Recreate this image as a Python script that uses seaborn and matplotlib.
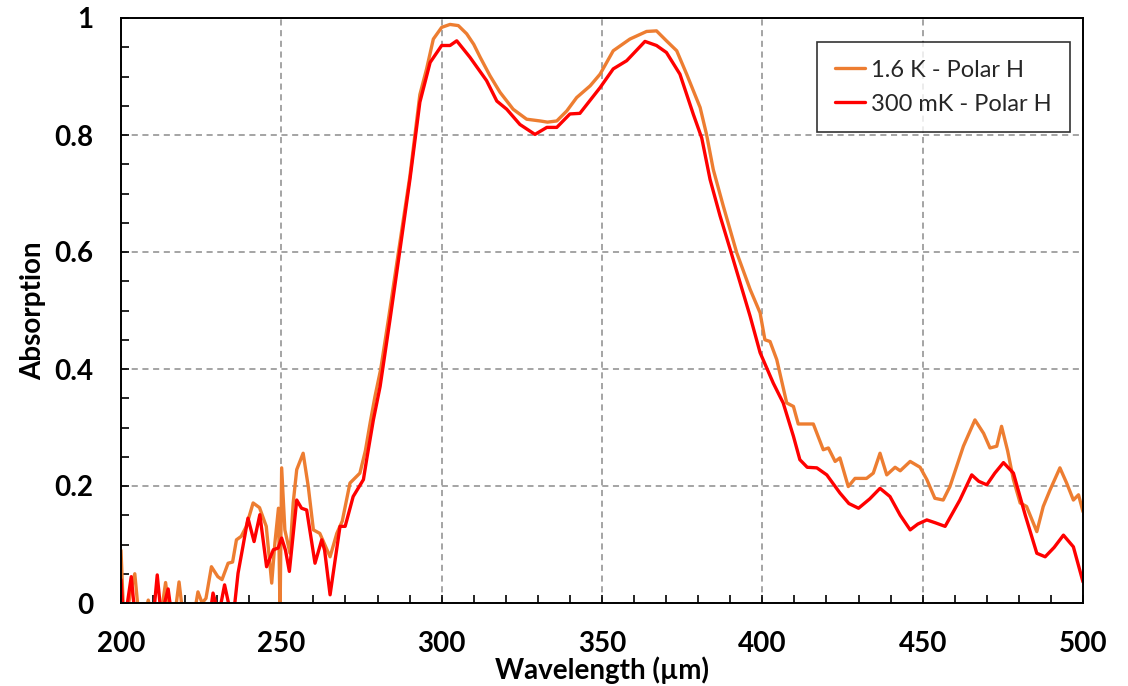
import numpy as np
import pandas as pd
import matplotlib
matplotlib.use("Agg")
import matplotlib.pyplot as plt
import seaborn as sns
from matplotlib.ticker import MultipleLocator, FuncFormatter

# ---------------- data ----------------
wl_16K = [200, 200.8, 201.5, 203, 204.3, 205.5, 207, 208.5, 209.5, 212.5, 213.9, 215.2, 216.8,
          218.1, 219.3, 222.8, 224, 225.3, 226.5, 228.2, 230.2, 231.5, 233.4, 234.8, 236, 237.5,
          239, 241.2, 243.2, 245.3, 247, 248, 249.1, 249.6, 250.1, 251.1, 252.7, 253.7, 254.8,
          256.8, 258.4, 260, 262, 265.2, 267.3, 269, 271.4, 274.5, 276.2, 277.7, 279.2, 281,
          283.4, 286.5, 290.1, 293.2, 295.3, 297.4, 300, 302.6, 305.2, 307.8, 310, 312, 315.1,
          318.2, 322.3, 326.5, 330.7, 333, 335.9, 339, 342.1, 346.3, 349.4, 353.5, 358.7, 363.9,
          367, 370.1, 373.3, 376.4, 380.6, 382.6, 384.7, 387.8, 392, 396.2, 399.3, 400.8, 402.4,
          404.5, 407.6, 409.7, 411.2, 415.9, 419, 420.6, 422.7, 424.2, 426.8, 428.9, 432.5, 434.6,
          436.7, 438.8, 441.4, 443, 446.1, 449.2, 451.3, 453.8, 456.4, 458.5, 462.7, 466.3, 469,
          471, 473.1, 474.6, 476.5, 478.3, 480.4, 482.4, 485.6, 487.6, 489.7, 492.8, 494.9, 497,
          498.6, 500]
abs_16K = [0.09, -0.02, -0.03, 0.02, 0.05, -0.02, -0.03, 0.005, -0.02, -0.02, 0.035, -0.02, -0.02,
           0.036, -0.02, -0.02, 0.019, 0.0, 0.008, 0.062, 0.045, 0.04, 0.068, 0.07, 0.108, 0.114,
           0.13, 0.171, 0.163, 0.131, 0.034, 0.103, 0.162, -0.02, 0.231, 0.125, 0.085, 0.171, 0.228,
           0.256, 0.199, 0.125, 0.119, 0.079, 0.119, 0.14, 0.205, 0.222, 0.26, 0.308, 0.353, 0.40,
           0.485, 0.599, 0.730, 0.869, 0.913, 0.964, 0.984, 0.989, 0.987, 0.973, 0.955, 0.933, 0.901,
           0.873, 0.844, 0.827, 0.824, 0.822, 0.824, 0.841, 0.864, 0.884, 0.904, 0.944, 0.964, 0.977,
           0.978, 0.961, 0.944, 0.904, 0.847, 0.801, 0.741, 0.679, 0.599, 0.536, 0.496, 0.450, 0.447,
           0.416, 0.342, 0.336, 0.306, 0.306, 0.262, 0.265, 0.242, 0.248, 0.199, 0.213, 0.213, 0.222,
           0.256, 0.219, 0.232, 0.226, 0.242, 0.232, 0.211, 0.179, 0.176, 0.199, 0.268, 0.313, 0.29,
           0.265, 0.268, 0.302, 0.26, 0.211, 0.171, 0.165, 0.122, 0.165, 0.193, 0.231, 0.205, 0.176,
           0.185, 0.156]

wl_300mK = [200, 200.8, 202, 203.2, 204.5, 210, 211.3, 212.5, 213.6, 214.7, 216, 227.5, 228.7,
            230.5, 232.3, 234.3, 235.5, 236.5, 238, 239.6, 241.5, 243.3, 245.4, 247.5, 249, 250.1,
            251.3, 252.5, 254.8, 256.3, 257.9, 260.5, 262.6, 263.5, 265.2, 268.3, 269.9, 272.4,
            275.6, 276.6, 278.7, 280.8, 283.9, 287, 290.1, 293.2, 296.4, 300, 302.6, 304.7, 308.8,
            314, 317.2, 320.3, 324.4, 329.1, 332.8, 335.9, 340, 343.1, 349.4, 353.5, 357.7, 363.4,
            367, 370.1, 374.3, 378.5, 381.1, 383.7, 386.8, 390, 393.1, 396.2, 399.3, 403.4, 406.5,
            409.7, 411.7, 414, 417, 420.1, 424.2, 427, 430, 433.5, 436.7, 439.8, 443, 446.1, 448.5,
            451.3, 454, 457, 461.6, 465.3, 467.5, 470, 472.5, 475.2, 478.3, 482, 485.6, 488.2, 491,
            493.9, 497, 500]
abs_300mK = [0.04, -0.03, 0.0, 0.045, -0.03, -0.03, 0.048, -0.02, 0.0, 0.024, -0.03, -0.03, 0.017,
             -0.02, 0.031, -0.02, 0.0, 0.051, 0.096, 0.145, 0.105, 0.151, 0.062, 0.091, 0.094, 0.111,
             0.09, 0.054, 0.176, 0.162, 0.159, 0.068, 0.108, 0.09, 0.014, 0.131, 0.131, 0.182,
             0.211, 0.245, 0.313, 0.370, 0.485, 0.604, 0.724, 0.856, 0.924, 0.953, 0.953, 0.961, 0.933,
             0.893, 0.858, 0.844, 0.818, 0.801, 0.813, 0.813, 0.836, 0.837, 0.881, 0.913, 0.927, 0.960,
             0.953, 0.941, 0.904, 0.835, 0.795, 0.724, 0.662, 0.604, 0.547, 0.490, 0.428, 0.376, 0.342,
             0.285, 0.245, 0.232, 0.231, 0.219, 0.188, 0.17, 0.162, 0.178, 0.196, 0.182, 0.15, 0.125, 0.135,
             0.142, 0.137, 0.131, 0.176, 0.219, 0.208, 0.202, 0.222, 0.240, 0.222, 0.15, 0.085, 0.079, 0.095,
             0.116, 0.096, 0.036]

series_names = ["1.6 K - Polar H", "300 mK - Polar H"]
series_colors = ["#ED7D31", "#FF0000"]
x_ticks = [200, 250, 300, 350, 400, 450, 500]
y_ticks = [0, 0.2, 0.4, 0.6, 0.8, 1]
x_label = "Wavelength (µm)"
y_label = "Absorption"

# ---------------- plot ----------------
sns.set_theme(style="white")
plt.rcParams["font.family"] = ["Lato", "DejaVu Sans"]

fig = plt.figure(figsize=(11.28, 6.86), dpi=100)
ax = fig.add_axes([121 / 1128, 1 - 603 / 686, (1083 - 121) / 1128, (603 - 18) / 686])

df = pd.concat([
    pd.DataFrame({"wl": wl_16K, "abs": abs_16K, "series": series_names[0]}),
    pd.DataFrame({"wl": wl_300mK, "abs": abs_300mK, "series": series_names[1]}),
], ignore_index=True)

sns.lineplot(data=df, x="wl", y="abs", hue="series", hue_order=series_names,
             palette=series_colors, linewidth=2.4, ax=ax, estimator=None, sort=True)

ax.set_xlim(200, 500)
ax.set_ylim(0, 1)
ax.set_xticks(x_ticks)
ax.set_yticks(y_ticks)
ax.xaxis.set_minor_locator(MultipleLocator(10))
ax.yaxis.set_minor_locator(MultipleLocator(0.05))
ax.yaxis.set_major_formatter(FuncFormatter(lambda v, p: f"{v:g}"))

ax.grid(True, which="major", linestyle=(0, (4, 3)), color="#8c8c8c", linewidth=1.1)
ax.set_axisbelow(True)

for s in ax.spines.values():
    s.set_visible(True)
    s.set_color("black")
    s.set_linewidth(1.4)

ax.tick_params(axis="both", which="both", direction="in", color="black",
               bottom=True, left=True, top=False, right=False)
ax.tick_params(axis="both", which="major", length=6, width=1.2, labelsize=20, pad=20)
ax.tick_params(axis="both", which="minor", length=6, width=1.2)
for lab in ax.get_xticklabels() + ax.get_yticklabels():
    lab.set_fontweight("bold")
    lab.set_color("black")

ax.set_xlabel(x_label, fontsize=20, fontweight="bold", color="black", labelpad=0)
ax.set_ylabel(y_label, fontsize=20, fontweight="bold", color="black", labelpad=6)

leg = ax.legend(loc="upper right", bbox_to_anchor=(0.986, 0.959), fontsize=17,
                frameon=True, fancybox=False, handlelength=1.3, handletextpad=0.25,
                borderpad=0.75, labelspacing=0.55, borderaxespad=0)
leg.get_frame().set_edgecolor("black")
leg.get_frame().set_linewidth(1.2)
for line in leg.get_lines():
    line.set_linewidth(2.4)

fig.savefig("out.png", dpi=100)
